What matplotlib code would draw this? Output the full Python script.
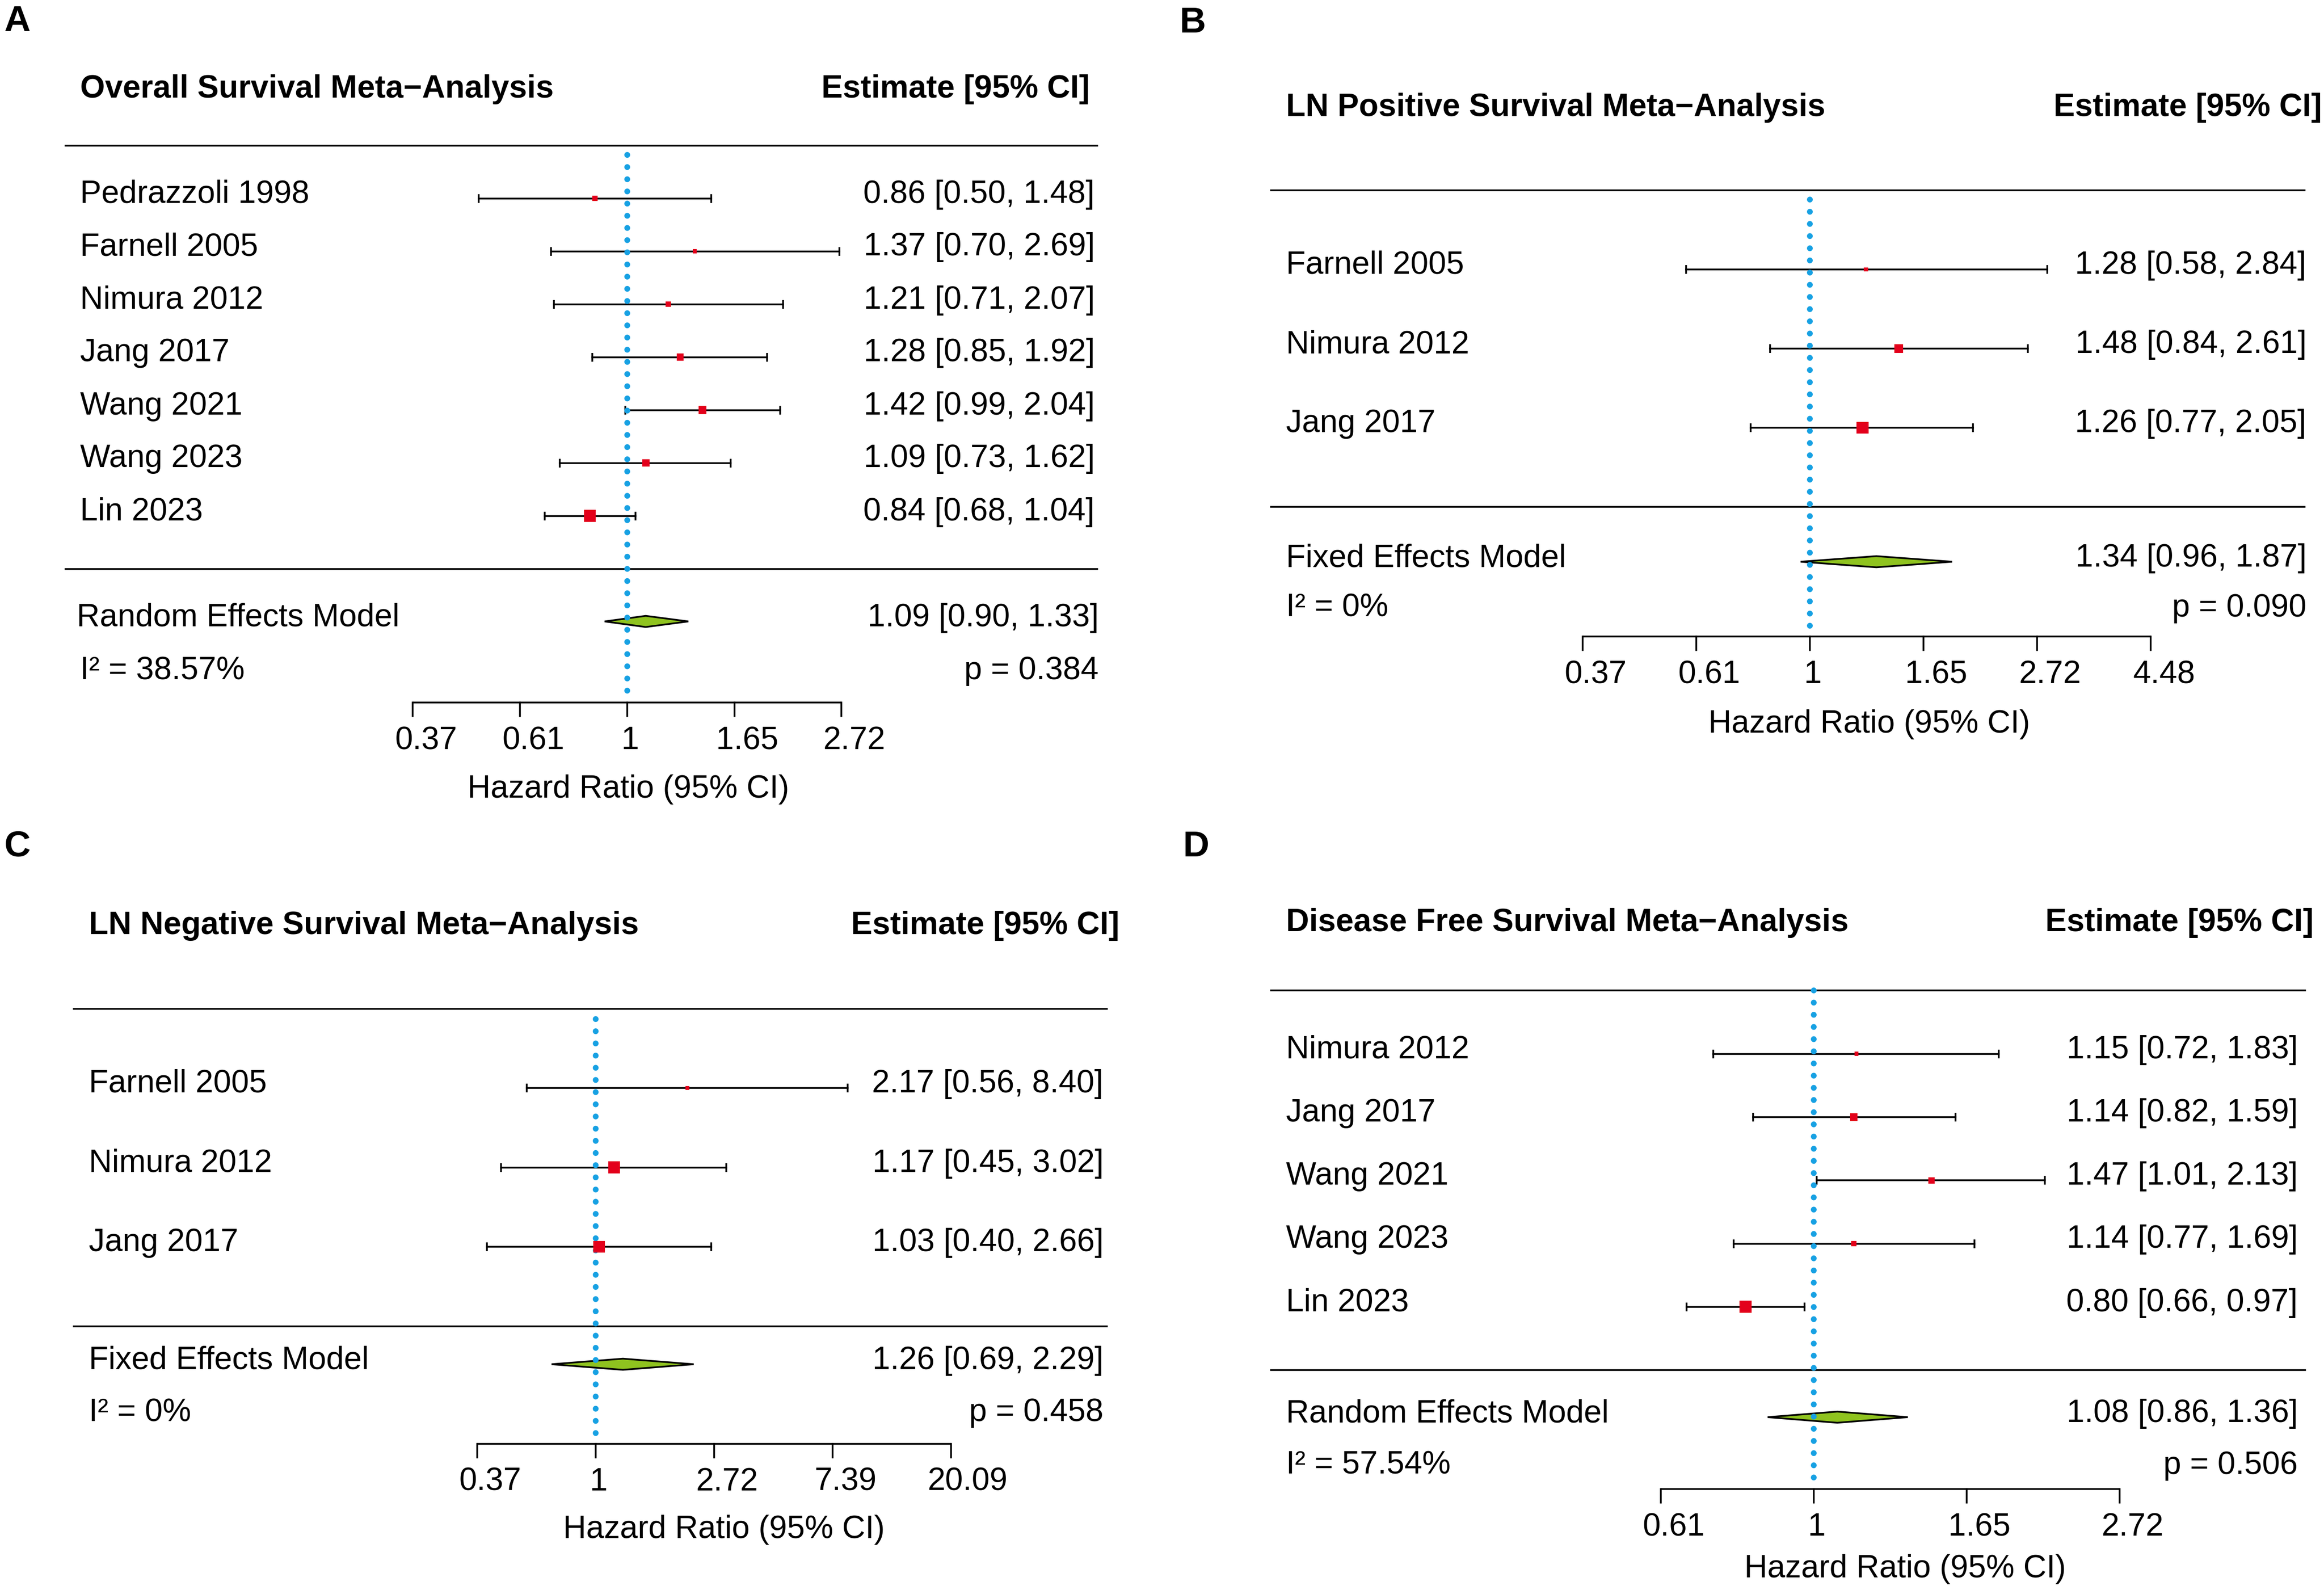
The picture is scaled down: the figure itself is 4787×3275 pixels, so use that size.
import numpy as np
import matplotlib
matplotlib.use('Agg')
import matplotlib.pyplot as plt
from matplotlib import transforms as mtransforms
from matplotlib.textpath import TextPath
from matplotlib.font_manager import FontProperties

plt.rcParams['font.family'] = ['Liberation Sans', 'DejaVu Sans']

W, H, DPI = 4787, 3275, 300
FS = 15.8
RED = '#E3001B'
GREEN = '#8FC31F'
BLUE = '#17A1E3'
LW = 0.85

# ── A: overall survival ──
a_study = ['Pedrazzoli 1998', 'Farnell 2005', 'Nimura 2012', 'Jang 2017',
           'Wang 2021', 'Wang 2023', 'Lin 2023']
a_hr = [0.86, 1.37, 1.21, 1.28, 1.42, 1.09, 0.84]
a_lo = [0.50, 0.70, 0.71, 0.85, 0.99, 0.73, 0.68]
a_hi = [1.48, 2.69, 2.07, 1.92, 2.04, 1.62, 1.04]
a_weight = [9.8, 7.0, 10.0, 14.6, 16.8, 15.0, 26.8]
a_pooled = [1.09, 0.90, 1.33]
a_i2, a_p = '38.57%', '0.384'
a_ticks = [-1, -0.5, 0, 0.5, 1]

# ── B: LN positive ──
b_study = ['Farnell 2005', 'Nimura 2012', 'Jang 2017']
b_hr = [1.28, 1.48, 1.26]
b_lo = [0.58, 0.84, 0.77]
b_hi = [2.84, 2.61, 2.05]
b_weight = [17.9, 35.1, 47.0]
b_pooled = [1.34, 0.96, 1.87]
b_i2, b_p = '0%', '0.090'
b_ticks = [-1, -0.5, 0, 0.5, 1, 1.5]

# ── C: LN negative ──
c_study = ['Farnell 2005', 'Nimura 2012', 'Jang 2017']
c_hr = [2.17, 1.17, 1.03]
c_lo = [0.56, 0.45, 0.40]
c_hi = [8.40, 3.02, 2.66]
c_weight = [19.3, 39.2, 39.5]
c_pooled = [1.26, 0.69, 2.29]
c_i2, c_p = '0%', '0.458'
c_ticks = [-1, 0, 1, 2, 3]

# ── D: disease free survival ──
d_study = ['Nimura 2012', 'Jang 2017', 'Wang 2021', 'Wang 2023', 'Lin 2023']
d_hr = [1.15, 1.14, 1.47, 1.14, 0.80]
d_lo = [0.72, 0.82, 1.01, 0.77, 0.66]
d_hi = [1.83, 1.59, 2.13, 1.69, 0.97]
d_weight = [14.5, 20.7, 18.5, 17.5, 28.9]
d_pooled = [1.08, 0.86, 1.36]
d_i2, d_p = '57.54%', '0.506'
d_ticks = [-0.5, 0, 0.5, 1]

# ── layout (pixels of the output image) ──
layout = {
    'A': dict(one=1292, k=441.5, row0=408.5, step=109, title=201, left=165, hright=2245,
              hl=(135, 2260), right=2255, sleft=158, sright=2263, summ=1280, het=1399,
              axis=1447, dot0=319, xlab=1643, xlc=1294, tag=(8, 64)),
    'B': dict(one=3728, k=468, row0=555, step=163, title=239, left=2649, hright=4783,
              hl=(2618, 4747), right=4751, sleft=2649, sright=4751, summ=1157, het=1270,
              axis=1311, dot0=411, xlab=1509, xlc=3850, tag=(2430, 67)),
    'C': dict(one=1226.7, k=244, row0=2241, step=163.5, title=1924, left=183, hright=2306,
              hl=(152, 2280), right=2273, sleft=183, sright=2273, summ=2810, het=2927,
              axis=2974, dot0=2099, xlab=3168, xlc=1491, tag=(9, 1764)),
    'D': dict(one=3736, k=630, row0=2170.6, step=130.3, title=1918, left=2649, hright=4766,
              hl=(2618, 4748), right=4733, sleft=2649, sright=4733, summ=2919, het=3036,
              axis=3067, dot0=2040, xlab=3249, xlc=3924, tag=(2437, 1764)),
}

fig = plt.figure(figsize=(W / DPI, H / DPI), dpi=DPI)
px = mtransforms.Affine2D().scale(1 / W, -1 / H).translate(0, 1) + fig.transFigure
fp = FontProperties(family='Liberation Sans', size=FS)


def fmt_tick(v):
    return f'{v:.2f}'.rstrip('0').rstrip('.')


def forest(tag, title, model, studies, hr, lo, hi, weight, pooled, i2, pval, ticks):
    p = layout[tag]
    ax = fig.add_axes([0, 0, 1, 1])
    ax.set_axis_off()
    ax.set_xscale('log')
    ax.set_xlim(np.exp(-p['one'] / p['k']), np.exp((W - p['one']) / p['k']))

    def row(y):
        return 1 + (y - p['row0']) / p['step']

    ax.set_ylim(row(H), row(0))
    n = len(studies)
    rows = np.arange(1, n + 1)
    pxrow = mtransforms.blended_transform_factory(px, ax.transData)
    txtrow = mtransforms.offset_copy(pxrow, fig=fig, y=-9, units='dots')
    datapx = mtransforms.blended_transform_factory(ax.transData, px)

    # panel tag, header
    ax.text(p['tag'][0], p['tag'][1], tag, transform=px, fontsize=18,
            fontweight='bold', va='baseline')
    ax.text(p['left'], p['title'], title, transform=px, fontsize=FS,
            fontweight='bold', va='baseline')
    ax.text(p['hright'], p['title'], 'Estimate [95% CI]', transform=px, fontsize=FS,
            fontweight='bold', va='baseline', ha='right')
    for r in (0, n + 1):
        ax.plot(p['hl'], [r, r], transform=pxrow, color='k', lw=LW)

    # studies
    for r, name, h, l, u in zip(rows, studies, hr, lo, hi):
        ax.plot([l, u], [r, r], color='k', lw=LW, marker='|', ms=4.3, mew=LW, zorder=1)
        ax.text(p['left'], r, name, transform=txtrow, fontsize=FS, va='baseline')
        ax.text(p['right'], r, f'{h:.2f} [{l:.2f}, {u:.2f}]', transform=txtrow,
                fontsize=FS, va='baseline', ha='right')
    w = np.array(weight)
    cex = 0.5 + (w - w.min()) / (w.max() - w.min())
    side = 16.5 * cex * 72 / DPI
    ax.scatter(hr, rows, s=side ** 2, marker='s', color=RED, linewidths=0, zorder=4)

    # pooled estimate
    est, plo, phi = pooled
    rs = row(p['summ'])
    dh = 11.5 / p['step']
    ax.fill([plo, est, phi, est], [rs, rs - dh, rs, rs + dh], facecolor=GREEN,
            edgecolor='k', lw=LW, zorder=2)
    ax.text(p['sleft'], p['summ'] + 10, model, transform=px, fontsize=FS, va='baseline')
    ax.text(p['sright'], p['summ'] + 10, f'{est:.2f} [{plo:.2f}, {phi:.2f}]',
            transform=px, fontsize=FS, va='baseline', ha='right')
    ax.text(p['left'], p['het'], f'I² = {i2}', transform=px, fontsize=FS, va='baseline')
    ax.text(p['sright'], p['het'], f'p = {pval}', transform=px, fontsize=FS,
            va='baseline', ha='right')

    # reference line
    ax.plot([1, 1], [row(p['dot0']), row(p['axis'])], color=BLUE, lw=2.88,
            ls=(0, (0.01, 2.08)), dash_capstyle='round', zorder=3)

    # x axis
    tv = np.exp(ticks)
    ra = row(p['axis'])
    ax.plot([tv[0], tv[-1]], [ra, ra], color='k', lw=LW, solid_capstyle='butt')
    for t in tv:
        ax.plot([t, t], [ra, row(p['axis'] + 28)], color='k', lw=LW)
        lab = fmt_tick(t)
        wpt = TextPath((0, 0), lab, prop=fp).get_extents().width
        tr = mtransforms.offset_copy(datapx, fig=fig, x=0.22 * wpt, units='points')
        ax.text(t, p['axis'] + 96, lab, transform=tr, fontsize=FS, ha='center',
                va='baseline')
    ax.text(p['xlc'], p['xlab'], 'Hazard Ratio (95% CI)', transform=px, fontsize=FS,
            ha='center', va='baseline')


forest('A', 'Overall Survival Meta\u2212Analysis', 'Random Effects Model',
       a_study, a_hr, a_lo, a_hi, a_weight, a_pooled, a_i2, a_p, a_ticks)
forest('B', 'LN Positive Survival Meta\u2212Analysis', 'Fixed Effects Model',
       b_study, b_hr, b_lo, b_hi, b_weight, b_pooled, b_i2, b_p, b_ticks)
forest('C', 'LN Negative Survival Meta\u2212Analysis', 'Fixed Effects Model',
       c_study, c_hr, c_lo, c_hi, c_weight, c_pooled, c_i2, c_p, c_ticks)
forest('D', 'Disease Free Survival Meta\u2212Analysis', 'Random Effects Model',
       d_study, d_hr, d_lo, d_hi, d_weight, d_pooled, d_i2, d_p, d_ticks)

fig.savefig('out.png', dpi=DPI, facecolor='white')
